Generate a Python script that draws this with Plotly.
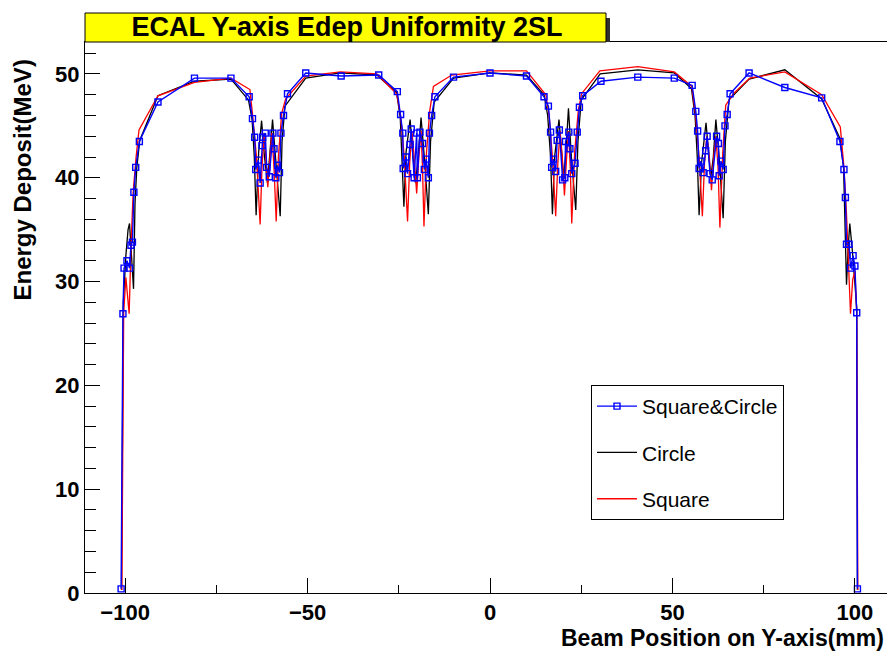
import plotly.graph_objects as go

# ---------------- data ----------------
# Square&Circle (blue, square markers)
sc_x = [-101.1, -100.6, -100.3, -99.5, -98.8, -98.4, -98.0, -97.6, -97.1, -96.1, -91.0, -81.0, -71.0,
        -66.0, -65.1, -64.5, -64.2, -63.5, -63.0, -62.5, -62.3, -61.6, -61.2, -60.5, -59.5, -59.2, -58.7,
        -58.2, -57.7, -57.3, -56.6, -55.5,
        -50.5, -40.8, -30.5,
        -25.4, -24.5, -23.9, -23.8, -23.0, -22.6, -21.9, -21.6, -20.8, -20.1, -19.9, -19.2, -18.5, -18.0,
        -17.5, -16.9, -16.6, -16.0, -15.1,
        -10.0, 0.0, 10.0,
        14.8, 16.0, 16.6, 16.9, 17.4, 18.0, 18.4, 19.0, 19.9, 20.5, 20.7, 21.6, 21.9, 22.4, 23.3, 23.9,
        24.5, 25.4,
        30.4, 40.5, 50.5,
        55.4, 56.4, 56.9, 57.3, 57.8, 58.4, 59.1, 59.5, 60.3, 60.9, 62.1, 62.6, 62.8, 63.3, 63.9, 64.4,
        65.0, 65.8,
        71.0, 80.8, 90.9, 95.9, 97.0, 97.4, 97.7, 98.4, 98.8, 99.5, 100.0, 100.5, 100.7]
sc_y = [0.4, 26.9, 31.3, 32.0, 31.3, 33.5, 33.8, 38.6, 41.0, 43.5, 47.3, 49.6, 49.6,
        47.8, 45.7, 43.9, 40.8, 41.7, 39.5, 43.1, 43.9, 44.3, 41.0, 40.1, 44.3, 42.8, 40.0,
        41.2, 40.5, 44.3, 46.0, 48.1,
        50.1, 49.8, 49.9,
        48.3, 46.1, 44.3, 40.9, 42.0, 40.4, 43.2, 44.7, 40.0, 44.3, 40.0, 44.4, 43.3, 40.8,
        41.8, 40.0, 44.3, 46.0, 47.8,
        49.7, 50.1, 49.8,
        47.8, 46.9, 44.4, 41.0, 41.8, 40.6, 43.6, 44.6, 39.8, 40.0, 43.5, 44.4, 42.8, 40.4, 41.4, 44.4,
        46.8, 47.9,
        49.3, 49.7, 49.6,
        48.9, 46.4, 44.5, 40.9, 41.6, 40.5, 42.6, 44.0, 40.4, 39.8, 44.0, 43.3, 40.2, 41.6, 40.8, 45.0,
        46.1, 48.1,
        50.1, 48.7, 47.7, 43.5, 40.8, 38.1, 33.6, 33.6, 31.3, 32.5, 31.5, 27.0, 0.4]

# Circle (black)
c_x = [-101.0, -100.5, -99.8, -99.2, -98.8, -98.3, -97.7, -97.3, -96.8, -96.0, -91.0, -81.0, -71.0,
       -66.2, -65.2, -64.6, -64.1, -63.4, -62.6, -61.8, -61.0, -60.3, -59.6, -58.8, -57.5, -57.0, -56.2,
       -50.5, -41.0, -31.0,
       -25.6, -24.6, -24.0, -23.6, -23.0, -21.9, -21.1, -20.4, -19.7, -18.9, -18.0, -16.9, -16.3, -15.3,
       -10.0, 0.0, 10.0,
       14.8, 15.8, 16.6, 17.1, 17.7, 18.9, 19.6, 20.2, 20.8, 21.5, 22.3, 23.5, 24.1, 25.0,
       30.2, 40.5, 50.5,
       55.2, 56.2, 56.8, 57.3, 58.0, 59.2, 59.9, 60.5, 61.2, 61.9, 62.8, 63.9, 64.5, 65.5,
       71.0, 80.8, 90.9, 95.9, 96.9, 97.3, 97.7, 98.2, 98.6, 99.3, 100.0, 100.5, 100.7]
c_y = [0.3, 28.0, 32.5, 35.0, 35.6, 33.0, 29.3, 37.5, 41.0, 43.6, 47.9, 49.3, 49.5,
       47.5, 45.6, 42.0, 36.4, 42.5, 45.5, 42.0, 39.5, 42.5, 45.6, 42.0, 36.3, 43.5, 46.9,
       49.6, 50.1, 49.9,
       48.2, 45.8, 41.5, 37.2, 42.5, 45.6, 42.0, 39.5, 42.0, 45.8, 42.0, 36.5, 43.5, 47.3,
       49.6, 50.1, 49.9,
       48.0, 46.0, 42.0, 36.5, 42.0, 45.6, 42.5, 40.0, 42.5, 46.7, 42.0, 36.9, 43.5, 47.5,
       50.0, 50.4, 50.1,
       48.6, 46.0, 42.0, 36.4, 41.5, 45.3, 42.0, 40.0, 42.0, 45.6, 42.0, 36.1, 43.5, 47.5,
       49.5, 50.4, 47.6, 43.8, 41.0, 36.0, 29.7, 33.5, 35.6, 33.0, 30.0, 27.5, 0.3]

# Square (red)
s_x = [-100.9, -100.4, -99.8, -98.9, -98.4, -97.8, -97.0, -96.2, -91.0, -81.0, -71.0,
       -65.8, -65.0, -64.0, -63.0, -62.5, -61.9, -61.4, -60.9, -60.3, -59.8, -59.2, -58.6, -58.0, -57.1,
       -56.0, -50.5, -41.0, -31.0,
       -25.6, -24.5, -23.5, -22.6, -22.0, -21.4, -20.8, -20.1, -19.5, -18.9, -18.5, -18.1, -17.4, -16.5,
       -15.5, -10.5, 0.0, 10.0,
       15.3, 16.2, 17.1, 18.0, 18.6, 19.2, 19.8, 20.4, 21.0, 21.5, 22.0, 22.4, 23.2, 24.2, 25.1,
       30.1, 40.5, 50.5,
       55.3, 56.3, 57.3, 58.2, 58.8, 59.4, 60.1, 60.7, 61.3, 61.9, 62.5, 63.0, 63.8, 64.6, 66.7,
       71.2, 80.8, 90.9, 96.0, 97.0, 97.7, 98.3, 98.8, 99.4, 100.0, 100.5, 100.8]
s_y = [0.3, 27.0, 30.4, 26.9, 33.3, 38.6, 42.0, 44.6, 47.9, 49.2, 49.6,
       48.5, 45.8, 42.0, 35.5, 41.0, 44.3, 42.0, 39.1, 42.0, 44.3, 41.0, 35.8, 42.0, 46.2,
       47.6, 49.8, 50.2, 50.0,
       48.1, 46.0, 42.0, 35.8, 41.5, 44.5, 42.0, 38.5, 42.0, 44.5, 41.0, 35.3, 42.5, 46.5,
       48.8, 49.9, 50.3, 50.3,
       48.0, 46.0, 42.0, 36.3, 41.5, 44.5, 42.0, 38.3, 42.0, 44.5, 41.0, 35.6, 42.5, 46.5, 48.1,
       50.3, 50.7, 50.2,
       48.8, 46.2, 42.0, 36.3, 41.5, 44.0, 42.0, 38.8, 42.0, 44.0, 41.0, 35.2, 42.5, 47.0, 48.1,
       49.6, 50.2, 48.0, 44.9, 41.0, 36.5, 31.5, 26.9, 30.2, 31.0, 27.0, 0.3]

x_ticks = [-100, -50, 0, 50, 100]
y_ticks = [0, 10, 20, 30, 40, 50]

# ---------------- figure ----------------
W, H = 887, 653
L, R, T, B = 85, 0, 42, 60
PW, PH = W - L - R, H - T - B

def px(xp):
    return (xp - L) / PW

def py(yp):
    return (H - B - yp) / PH

FONT = "Liberation Sans, Arial, Helvetica, sans-serif"

fig = go.Figure()
fig.add_trace(go.Scatter(x=c_x, y=c_y, mode="lines", name="Circle",
                         line=dict(color="#000000", width=1.3),
                         legendgroup="c", legendrank=2))
fig.add_trace(go.Scatter(x=s_x, y=s_y, mode="lines", name="Square",
                         line=dict(color="#ff0000", width=1.3),
                         legendgroup="s", legendrank=3))
fig.add_trace(go.Scatter(x=sc_x, y=sc_y, mode="lines+markers", name="Square&Circle",
                         line=dict(color="#0000ff", width=1.4),
                         marker=dict(symbol="square-open", size=6, color="#0000ff",
                                     line=dict(width=1.4, color="#0000ff")),
                         legendgroup="sc", legendrank=1))

fig.update_layout(
    width=W, height=H,
    margin=dict(l=L, r=R, t=T, b=B),
    paper_bgcolor="white", plot_bgcolor="white",
    font=dict(family=FONT, color="black"),
    title=dict(text="ECAL Y-axis Edep Uniformity 2SL",
               font=dict(family=FONT, size=27, weight="bold", color="black"),
               x=347 / W, xanchor="center", y=1 - 27 / H, yanchor="middle",
               xref="container", yref="container"),
    showlegend=True,
    legend=dict(x=px(591), y=py(385), xanchor="left", yanchor="top",
                bgcolor="white", bordercolor="black", borderwidth=1,
                font=dict(family=FONT, size=21, color="black"),
                itemwidth=40, entrywidth=172,
                tracegroupgap=16, traceorder="grouped"),
    xaxis=dict(range=[-111, 108.8], showgrid=False, zeroline=False,
               showline=True, linecolor="black", linewidth=1, mirror=True,
               ticks="inside", ticklen=15, tickwidth=1, tickcolor="black",
               tickvals=x_ticks,
               tickfont=dict(family=FONT, size=22, weight="bold", color="black"),
               minor=dict(tickvals=[-75, -25, 25, 75], ticks="inside", ticklen=8,
                          tickcolor="black", tickwidth=1)),
    yaxis=dict(range=[0, 53.08], showgrid=False, zeroline=False,
               showline=True, linecolor="black", linewidth=1,
               ticks="inside", ticklen=15, tickwidth=1, tickcolor="black",
               tickvals=y_ticks,
               tickfont=dict(family=FONT, size=22, weight="bold", color="black"),
               minor=dict(dtick=2, ticks="inside", ticklen=11,
                          tickcolor="black", tickwidth=1)),
    shapes=[
        dict(type="rect", xref="paper", yref="paper",
             x0=px(606), x1=px(610), y0=py(42), y1=py(18),
             fillcolor="#303030", line=dict(width=0), layer="above"),
        dict(type="rect", xref="paper", yref="paper",
             x0=px(85), x1=px(606), y0=py(42), y1=py(13),
             fillcolor="#ffff00", line=dict(color="black", width=1), layer="above"),
    ],
    annotations=[
        dict(text="Beam Position on Y-axis(mm)", xref="paper", yref="paper",
             x=px(886), y=py(653), xanchor="right", yanchor="bottom", showarrow=False,
             font=dict(family=FONT, size=23, weight="bold", color="black")),
        dict(text="Energy Deposit(MeV)", xref="paper", yref="paper", textangle=-90,
             x=px(22), y=py(58), xanchor="center", yanchor="top", showarrow=False,
             font=dict(family=FONT, size=24, weight="bold", color="black")),
    ],
)

fig.write_html("out.html")
